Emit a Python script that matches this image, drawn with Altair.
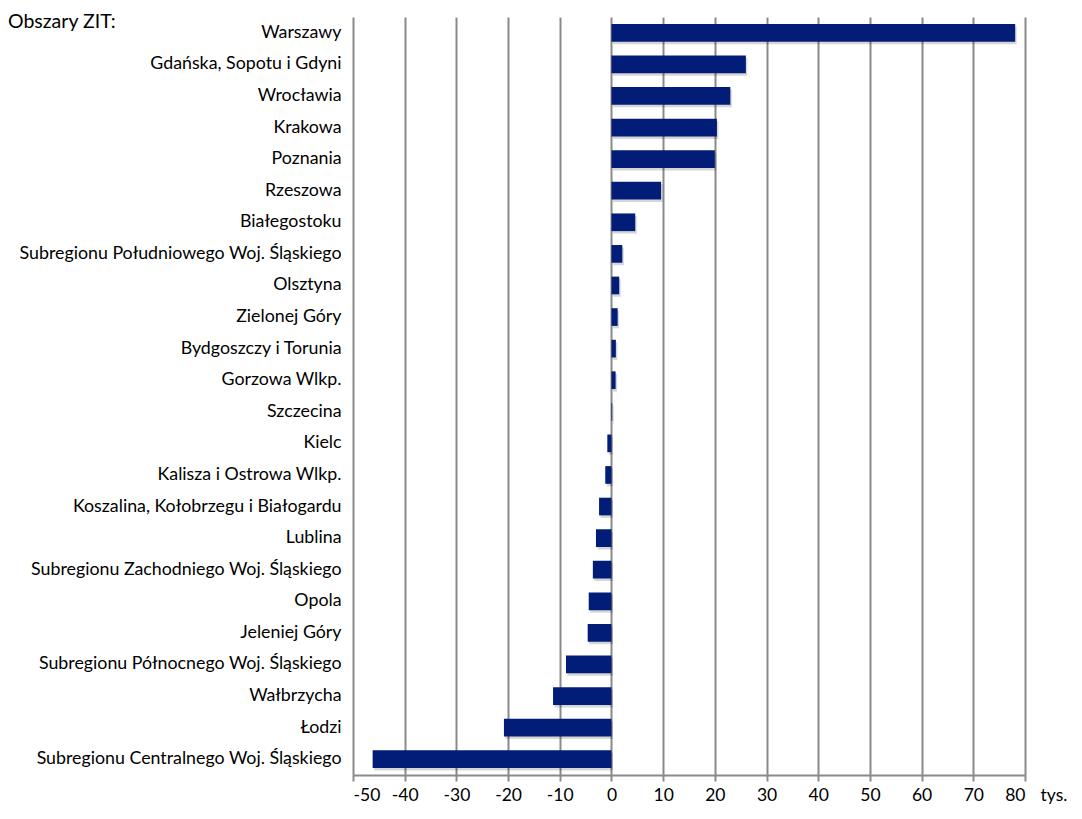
import altair as alt
import pandas as pd

regions = [
    "Warszawy", "Gdańska, Sopotu i Gdyni", "Wrocławia", "Krakowa", "Poznania",
    "Rzeszowa", "Białegostoku", "Subregionu Południowego Woj. Śląskiego",
    "Olsztyna", "Zielonej Góry", "Bydgoszczy i Torunia", "Gorzowa Wlkp.",
    "Szczecina", "Kielc", "Kalisza i Ostrowa Wlkp.",
    "Koszalina, Kołobrzegu i Białogardu", "Lublina",
    "Subregionu Zachodniego Woj. Śląskiego", "Opola", "Jeleniej Góry",
    "Subregionu Północnego Woj. Śląskiego", "Wałbrzycha", "Łodzi",
    "Subregionu Centralnego Woj. Śląskiego",
]
values = [
    78.1, 26.0, 23.0, 20.4, 20.0, 9.6, 4.6, 2.1, 1.5, 1.2, 0.85, 0.8, 0.15,
    -0.8, -1.2, -2.4, -3.0, -3.6, -4.4, -4.6, -8.8, -11.3, -20.8, -46.2,
]
x_ticks = list(range(-50, 81, 10))

FONT = "Lato"
df = pd.DataFrame({"region": regions, "value": values})

x_enc = alt.X(
    "value:Q",
    scale=alt.Scale(domain=[-50, 80], nice=False),
    axis=alt.Axis(
        values=x_ticks, title="tys.", titleX=687, titleY=25,
        titleAlign="left", titleBaseline="alphabetic",
        titleFontWeight="normal", titleFontSize=17.5, titleFont=FONT,
        titleColor="#000", labelFontSize=17.5, labelFont=FONT,
        labelColor="#000", labelPadding=5, tickSize=6,
        labelExpr="toString(datum.value)",
        tickColor="#8a8a8a", tickWidth=2, domainColor="#8a8a8a",
        domainWidth=2, grid=True, gridColor="#8a8a8a", gridWidth=2,
    ),
)
y_enc = alt.Y(
    "region:N", sort=regions,
    scale=alt.Scale(paddingInner=0.44, paddingOuter=0.22),
    axis=alt.Axis(
        title=None, ticks=False, domain=False, labelFontSize=17.8,
        labelFont=FONT, labelColor="#000", labelPadding=12,
        labelLimit=400,
    ),
)

shadow = alt.Chart(df).mark_bar(
    color="#000", opacity=0.16, xOffset=1.5, yOffset=2.5
).encode(x=x_enc, y=y_enc)

bars = alt.Chart(df).mark_bar(color="#021d77").encode(x=x_enc, y=y_enc)

title_text = alt.Chart(pd.DataFrame({"t": ["Obszary ZIT:"]})).mark_text(
    align="left", baseline="alphabetic", fontSize=19.5, font=FONT, color="#000"
).encode(text="t:N", x=alt.value(-345), y=alt.value(11))

chart = alt.layer(shadow, bars, title_text).properties(
    width=672, height=758,
    autosize=alt.AutoSizeParams(type="none"),
    padding={"left": 345, "top": 9, "right": 49, "bottom": 31},
).configure_view(stroke=None)

chart.save("out.html", embed_options={"renderer": "svg", "actions": False})
